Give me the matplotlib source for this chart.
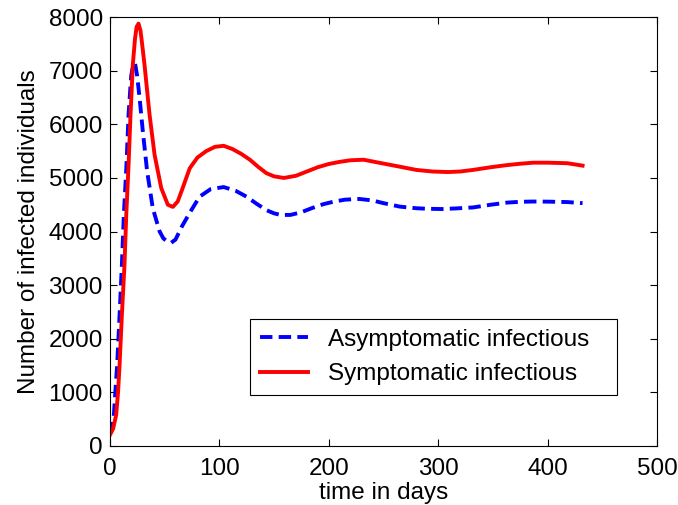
import matplotlib
matplotlib.use("Agg")
import matplotlib.pyplot as plt

plt.rcParams["font.family"] = ["Liberation Sans", "DejaVu Sans"]

# values (days, number of individuals)
t_asym = [0, 2, 3.7, 5, 6.7, 8.9, 11, 12.8, 15.2, 17.1, 19.5, 21, 23, 25,
          27.2, 30.2, 34.1, 39.3, 45.5, 49, 53, 56, 60, 66, 73, 82, 92, 104,
          115, 125, 134, 143, 150, 156, 165, 175, 185, 195, 205, 215, 228,
          240, 250, 265, 280, 290, 303, 315, 332, 348, 363, 375, 387, 400,
          418, 432]
asym = [220, 350, 580, 1000, 1510, 2440, 3380, 4310, 5240, 6180, 6900, 7080,
        7140, 6900, 6490, 5860, 5120, 4430, 4000, 3870, 3810, 3790, 3850,
        4100, 4350, 4650, 4790, 4830, 4760, 4650, 4520, 4400, 4340, 4310,
        4310, 4360, 4440, 4510, 4560, 4595, 4608, 4580, 4530, 4465, 4435,
        4425, 4420, 4430, 4450, 4500, 4540, 4555, 4560, 4558, 4550, 4530]

t_sym = [0, 3, 5.8, 7.5, 8.9, 11, 13.4, 15, 17.1, 18.9, 21, 23, 24.5, 26.2,
         28, 29.5, 31.7, 36.3, 40.9, 47, 53, 57.6, 62, 66, 73, 80, 88, 96,
         104, 112, 120, 128, 136, 143, 150, 159, 170, 180, 190, 200, 210,
         220, 232, 247, 265, 280, 295, 309, 320, 332, 348, 363, 375, 387,
         400, 418, 432]
sym = [200, 320, 580, 1000, 1510, 2440, 3380, 4310, 5240, 6180, 7110, 7600,
       7820, 7880, 7750, 7500, 7110, 6180, 5430, 4810, 4500, 4460, 4560,
       4780, 5180, 5380, 5500, 5580, 5600, 5540, 5450, 5340, 5200, 5090,
       5030, 5000, 5040, 5120, 5200, 5260, 5300, 5330, 5340, 5280, 5210,
       5150, 5120, 5110, 5120, 5150, 5200, 5240, 5265, 5285, 5285, 5275,
       5230]

x_ticks = [0, 100, 200, 300, 400, 500]
y_ticks = [0, 1000, 2000, 3000, 4000, 5000, 6000, 7000, 8000]

fig = plt.figure(figsize=(6.78, 5.05), dpi=100)
ax = fig.add_axes([0.162, 0.117, 0.807, 0.849])

ax.plot(t_asym, asym, color="blue", lw=2.8, dashes=(3.2, 1.6),
        label="Asymptomatic infectious")
ax.plot(t_sym, sym, color="red", lw=2.8, label="Symptomatic infectious")

ax.set_xlim(0, 500)
ax.set_ylim(0, 8000)
ax.set_xticks(x_ticks)
ax.set_yticks(y_ticks)
ax.tick_params(direction="in", top=True, right=True, length=5, width=0.8,
               labelsize=17.5)
ax.tick_params(axis="x", pad=9)
ax.tick_params(axis="y", pad=5)
for s in ax.spines.values():
    s.set_linewidth(0.8)

ax.set_xlabel("time in days", fontsize=17.5, labelpad=1.5)
ax.set_ylabel("Number of infected individuals", fontsize=17.5, labelpad=6)

leg = ax.legend(loc="lower left", bbox_to_anchor=(0.256, 0.119, 0.671, 0.166),
                mode="expand", fontsize=17.5, fancybox=False,
                edgecolor="black", framealpha=1, borderaxespad=0,
                handlelength=2.0)
leg.get_frame().set_linewidth(0.8)

fig.savefig("out.png", dpi=100)
